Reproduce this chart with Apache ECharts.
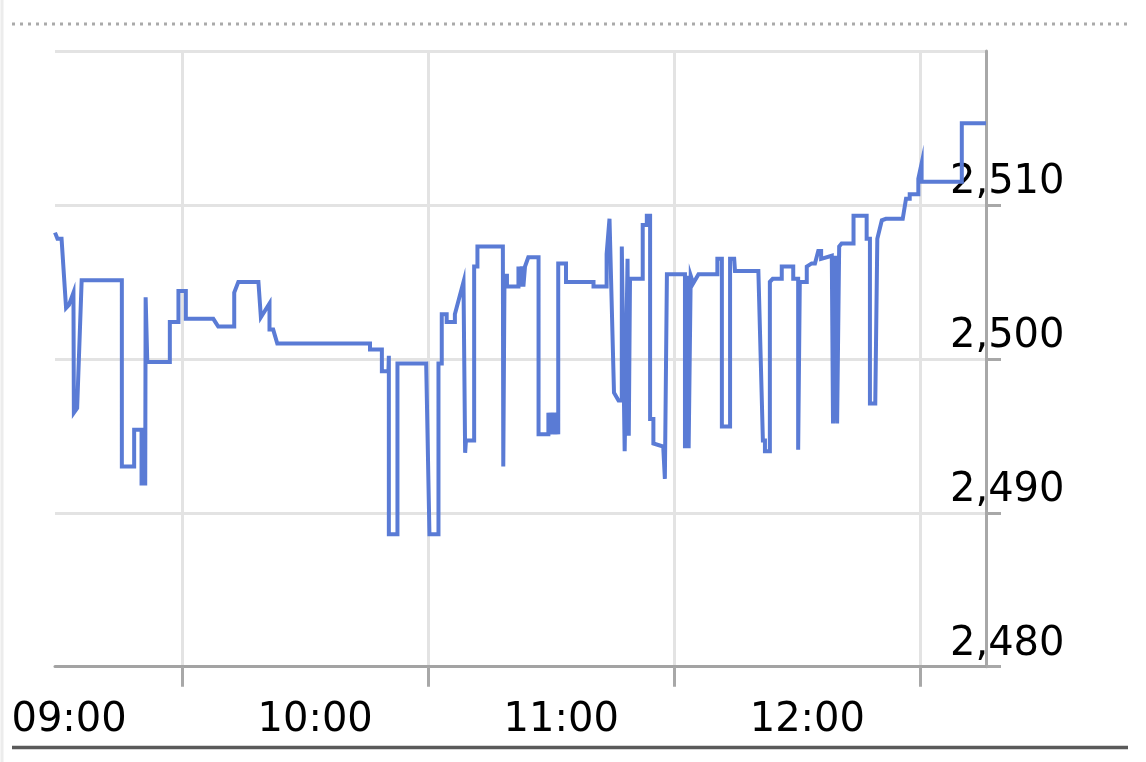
<!DOCTYPE html>
<html>
<head>
<meta charset="utf-8">
<style>
  html, body { margin: 0; padding: 0; background: #ffffff; }
  #chart { width: 1146px; height: 762px; }
</style>
<script src="https://cdn.jsdelivr.net/npm/echarts@6/dist/echarts.min.js"></script>
</head>
<body>
<div id="chart"></div>
<script>
// ---- data (time in minutes after midnight, price) ----
const pricePoints = [
  [539.0,2508.2],[539.6,2507.8],[540.6,2507.8],[541.7,2503.3],[542.4,2503.5],[543.5,2504.3],[543.6,2496.5],[544.4,2496.8],[545.5,2505.1],
  [555.3,2505.1],[555.3,2493.0],[558.3,2493.0],[558.3,2495.4],[560.1,2495.4],[560.1,2491.9],[561.0,2491.9],[561.1,2504.0],[561.5,2499.8],
  [567.0,2499.8],[567.0,2502.4],[569.1,2502.4],[569.1,2504.4],[570.9,2504.4],[570.9,2502.6],
  [577.6,2502.6],[578.8,2502.1],[582.7,2502.1],[582.7,2504.3],[583.7,2505.0],[588.6,2505.0],[589.2,2502.7],[591.3,2503.6],[591.3,2501.9],[592.2,2501.9],[593.2,2501.0],
  [615.8,2501.0],[615.8,2500.6],[618.7,2500.6],[618.7,2499.2],[620.3,2499.2],[620.4,2500.2],[620.4,2488.6],[622.5,2488.6],[622.5,2499.7],
  [629.5,2499.7],[630.3,2488.6],[632.5,2488.6],[632.5,2499.7],[633.3,2499.7],[633.3,2502.9],[634.5,2502.9],[634.5,2502.4],[636.5,2502.4],[636.5,2502.9],[638.6,2505.0],[639.0,2493.9],[639.2,2494.7],[641.2,2494.7],[641.2,2506.0],[642.0,2506.0],[642.0,2507.3],
  [648.2,2507.3],[648.3,2493.0],[648.6,2505.4],[649.2,2505.4],[649.2,2504.7],[652.0,2504.7],[652.0,2506.0],[652.4,2504.7],[652.8,2506.0],[653.2,2504.7],[653.6,2506.0],[654.4,2506.6],[656.9,2506.6],[656.9,2495.1],
  [659.3,2495.1],[659.3,2496.5],[659.8,2495.1],[660.3,2496.5],[660.8,2495.1],[661.3,2496.5],[661.7,2495.1],[661.7,2506.2],[663.6,2506.2],[663.6,2505.0],[670.3,2505.0],[670.3,2504.7],[673.5,2504.7],[673.5,2506.8],[674.2,2509.1],[675.3,2497.8],[676.4,2497.3],[677.2,2497.3],[677.2,2507.3],[677.9,2494.0],[678.2,2493.9],[678.6,2506.5],[678.9,2495.0],[679.2,2505.2],
  [682.3,2505.2],[682.3,2508.7],[683.3,2508.7],[683.3,2509.3],[684.1,2509.3],[684.1,2496.1],[684.9,2496.1],[684.9,2494.5],[687.3,2494.3],[687.7,2492.2],[688.2,2505.5],[692.6,2505.5],[692.6,2494.2],[693.1,2505.4],[693.5,2494.2],[694.0,2505.4],[694.6,2504.9],[695.9,2505.5],
  [700.5,2505.5],[700.5,2506.5],[701.6,2506.5],[701.6,2495.6],[703.6,2495.6],[703.6,2506.5],[704.6,2506.5],[704.8,2505.7],[710.5,2505.7],[711.6,2494.7],[712.1,2494.7],[712.1,2494.0],[713.3,2494.0],[713.3,2505.0],[714.0,2505.2],[716.2,2505.2],[716.2,2506.0],[719.0,2506.0],[719.0,2505.2],[720.2,2505.2],[720.2,2494.1],[720.6,2505.0],
  [722.3,2505.0],[722.3,2506.0],[723.5,2506.2],[724.3,2506.2],[725.1,2507.0],[725.8,2507.0],[725.8,2506.5],[728.4,2506.7],[728.7,2495.8],[729.2,2506.7],[729.7,2495.8],[730.2,2507.3],[730.8,2507.5],
  [733.7,2507.5],[733.7,2509.3],[736.9,2509.3],[736.9,2507.8],[737.7,2507.8],[737.7,2497.1],[739.0,2497.1],[739.5,2507.8],[740.6,2509.0],[741.6,2509.1],[745.7,2509.1],[746.5,2510.4],[747.4,2510.4],[747.4,2510.7],[749.5,2510.7],[749.5,2511.7],[750.3,2512.7],[750.3,2511.5],
  [760.1,2511.5],[760.1,2515.3],[766.0,2515.3]
];
const timeMin = 539, timeMax = 766;
const gridTimes = [570, 630, 690, 750];          // vertical grid lines / ticks
const labelTimes = [540, 600, 660, 720];         // time labels
const priceMin = 2480, priceMax = 2520, priceStep = 10;

function fmtTime(m) {
  const h = Math.floor(m / 60), mm = Math.round(m % 60);
  return String(h).padStart(2, '0') + ':' + String(mm).padStart(2, '0');
}

const chart = echarts.init(document.getElementById('chart'), null, { renderer: 'canvas' });
const FONT = 'DejaVu Sans';
chart.setOption({
  animation: false,
  backgroundColor: '#ffffff',
  grid: { left: 55, right: 160, top: 51, bottom: 95.3, containLabel: false, outerBoundsMode: 'none' },
  xAxis: {
    type: 'value',
    min: timeMin, max: timeMax,
    axisLine: { show: true, lineStyle: { color: '#a3a3a3', width: 3 } },
    axisTick: { show: true, customValues: gridTimes, length: 20, lineStyle: { color: '#a8a8a8', width: 3 } },
    splitLine: { show: true, lineStyle: { color: '#e3e3e3', width: 3 } },
    axisLabel: {
      customValues: labelTimes,
      formatter: v => fmtTime(v),
      fontFamily: FONT, fontSize: 40, color: '#000',
      verticalAlign: 'middle', margin: 54,
      padding: [0, 0, 0, 20],
      showMinLabel: true, showMaxLabel: true
    }
  },
  yAxis: {
    type: 'value',
    position: 'right',
    min: priceMin, max: priceMax, interval: priceStep,
    axisLine: { show: true, lineStyle: { color: '#a8a8a8', width: 3 } },
    axisTick: { show: true, length: 15, lineStyle: { color: '#a8a8a8', width: 3 } },
    splitLine: { show: true, lineStyle: { color: '#e3e3e3', width: 3 } },
    axisLabel: {
      formatter: v => v.toLocaleString('en-US'),
      fontFamily: FONT, fontSize: 40, color: '#000',
      margin: -36, align: 'left', verticalAlign: 'bottom',
      lineHeight: 44,
      showMaxLabel: false, showMinLabel: true
    }
  },
  graphic: [
    { type: 'line', silent: true, z: -1, shape: { x1: 2, y1: 0, x2: 2, y2: 762 }, style: { stroke: '#ececec', lineWidth: 3 } },
    { type: 'line', silent: true, shape: { x1: 12, y1: 24, x2: 1128, y2: 24 }, style: { stroke: '#aaaaaa', lineWidth: 3, lineDash: [3, 5] } },
    { type: 'line', silent: true, shape: { x1: 12, y1: 747.5, x2: 1128, y2: 747.5 }, style: { stroke: '#5a5a5a', lineWidth: 3.5 } }
  ],
  series: [{
    type: 'line',
    data: pricePoints,
    showSymbol: false,
    symbol: 'none',
    smooth: false,
    clip: true,
    lineStyle: { color: '#5a7bd5', width: 4, join: 'miter' }
  }]
});
</script>
</body>
</html>
